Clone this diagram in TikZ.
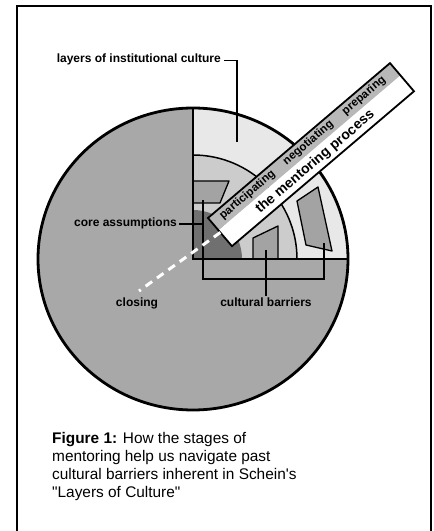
\documentclass[tikz,border=0pt]{standalone}
\usepackage{fontspec}
\setmainfont{Liberation Sans}
\definecolor{diskgray}{gray}{0.66}
\definecolor{lightest}{gray}{0.91}
\definecolor{lightring}{gray}{0.80}
\definecolor{coregray}{gray}{0.44}
\definecolor{barrierfill}{gray}{0.64}
\definecolor{stripgray}{gray}{0.72}
\begin{document}
\begin{tikzpicture}[x=1pt,y=1pt,
  frameline/.style={line width=2.6pt},
  heavyline/.style={line width=2.8pt},
  lead/.style={line width=1.6pt},
  lbl/.style={font=\fontsize{12}{14}\selectfont\bfseries, inner sep=0pt},
  stage/.style={font=\fontsize{11.5}{13}\selectfont\bfseries, inner sep=0pt, transform shape, anchor=base},
  barrier/.style={fill=barrierfill, draw=black, line width=1.3pt, line join=round},
  captext/.style={font=\fontsize{15.4}{18}\selectfont, inner sep=0pt, anchor=base west}
]
\useasboundingbox (0,0) rectangle (434,531);
% frame
\draw[frameline] (17,0) -- (17,525) -- (431,525) -- (431,0);

% circle and quadrant
\coordinate (C) at (193,272);
\fill[diskgray] (C) ellipse [x radius=155, y radius=151];
\fill[lightest] (C) -- (348,272) arc[start angle=0, end angle=90, x radius=155, y radius=151] -- cycle;
\fill[lightring] (C) -- (297,272) arc[start angle=0, end angle=90, radius=104] -- cycle;
\fill[coregray] (C) -- (242,272) arc[start angle=0, end angle=90, radius=49] -- cycle;
\draw[line width=1.5pt] (297,272) arc[start angle=0, end angle=90, radius=104];
% barriers
\draw[barrier] (193,350) -- (229,350) -- (220,328) -- (193,328) -- cycle;
\draw[barrier] (253,272) -- (253,293) -- (278,305) -- (278,272) -- cycle;
\draw[barrier] (297,330) -- (318,344) -- (332,280) -- (306,286) -- cycle;
% outline and axes
\draw[heavyline] (C) ellipse [x radius=155, y radius=151];
\draw[heavyline, line cap=rect] (193,423) -- (C) -- (348,272);

% labels and leaders
\node[lbl, anchor=base east] (layers) at (221,468) {layers of institutional culture};
\coordinate (layersend) at (237,389);
\draw[lead] ([xshift=3pt,yshift=2.5pt]layers.base east) -| (layersend);

\node[lbl, anchor=base east] (core) at (177,304) {core assumptions};
\coordinate (coretip) at (203,307);
\draw[lead] ([xshift=2pt,yshift=3pt]core.base east) -- (coretip);

\node[lbl, anchor=base] (closing) at (137,224) {closing};
\node[lbl, anchor=base] (cb) at (266,224) {cultural barriers};
\coordinate (bl) at (203,331);
\coordinate (br) at (324,288);
\coordinate (bm) at (266,281);
\draw[lead] (bl) |- (324,252) -- (br);
\draw[lead] (bm) -- ([yshift=2pt]cb.north);

% mentoring box
\begin{scope}[shift={(208,313)}, rotate=40.4]
  \fill[white] (0,-16) rectangle (239,-37);
  \fill[stripgray] (0,0) rectangle (239,-16);
  \draw[line width=1.8pt] (0,0) rectangle (239,-37);
  \node[stage] (part) at (45,-11) {participating};
  \node[stage] (nego) at (125,-11) {negotiating};
  \node[stage] (prep) at (198,-11) {preparing};
  \node[font=\fontsize{14}{16}\selectfont\bfseries, inner sep=0pt, transform shape, anchor=base] (mp) at (118,-30.5) {the mentoring process};
  \coordinate (boxend) at (0,-19);
\end{scope}
\coordinate (dashend) at (139,240);
\draw[white, line width=3pt, dash pattern=on 8pt off 6pt] (boxend) -- (dashend);

% caption
\node[captext] (cap1) at (52,87) {\textbf{Figure 1:} How the stages of};
\node[captext] (cap2) at (52,69) {mentoring help us navigate past};
\node[captext] (cap3) at (52,51) {cultural barriers inherent in Schein\textquotesingle s};
\node[captext] (cap4) at (52,33) {\textquotedbl Layers of Culture\textquotedbl};
\end{tikzpicture}
\end{document}
